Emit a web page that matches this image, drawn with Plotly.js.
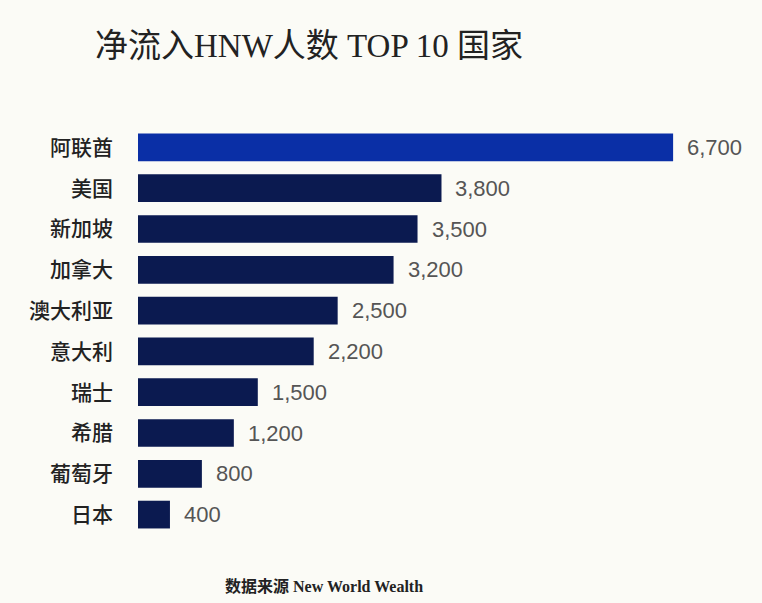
<!DOCTYPE html>
<html>
<head>
<meta charset="utf-8">
<script src="https://cdn.plot.ly/plotly-3.0.1.min.js"></script>
<style>html,body{margin:0;padding:0;background:#fbfbf6;}#chart{width:762px;height:603px;}</style>
</head>
<body>
<div id="chart"></div>
<script>
const countries = ["阿联酋", "美国", "新加坡", "加拿大", "澳大利亚", "意大利", "瑞士", "希腊", "葡萄牙", "日本"];
const netInflow = [6700, 3800, 3500, 3200, 2500, 2200, 1500, 1200, 800, 400];
const valueLabels = ["6,700", "3,800", "3,500", "3,200", "2,500", "2,200", "1,500", "1,200", "800", "400"];
const barColors = ["#0a2fa6", "#0b1a50", "#0b1a50", "#0b1a50", "#0b1a50", "#0b1a50", "#0b1a50", "#0b1a50", "#0b1a50", "#0b1a50"];

const trace = {
  type: "bar",
  orientation: "h",
  x: netInflow,
  y: countries,
  marker: {color: barColors},
  hoverinfo: "none"
};

const annotations = netInflow.map((v, i) => ({
  x: v, y: countries[i], xref: "x", yref: "y",
  text: valueLabels[i], showarrow: false,
  xanchor: "left", yanchor: "middle", xshift: 12,
  font: {family: "Liberation Sans, Arial, sans-serif", size: 22, color: "#555555"}
}));
annotations.push({
  xref: "paper", yref: "paper", x: 0.311, y: -0.127,
  xanchor: "center", yanchor: "middle", showarrow: false,
  text: "<b>数据来源 New World Wealth</b>",
  font: {family: "Liberation Serif, Noto Sans CJK SC, serif", size: 16, color: "#222222"}
});

const layout = {
  width: 762, height: 603,
  paper_bgcolor: "#fbfbf6", plot_bgcolor: "#fbfbf6",
  margin: {l: 138, r: 25, t: 127, b: 68},
  title: {
    text: "净流入HNW人数 TOP 10 国家",
    x: 95/762, xref: "container", xanchor: "left",
    y: 1 - 45/603, yref: "container", yanchor: "middle",
    font: {family: "Liberation Serif, Noto Sans CJK SC, serif", size: 33, color: "#222222"}
  },
  xaxis: {range: [0, 7500], visible: false, showgrid: false, zeroline: false},
  yaxis: {
    autorange: "reversed", showgrid: false, zeroline: false, showline: false,
    ticks: "", ticklabelstandoff: 24,
    tickfont: {family: "Noto Sans CJK SC, sans-serif", size: 21, weight: 500, color: "#222222"}
  },
  bargap: 0.32,
  showlegend: false,
  annotations: annotations
};

Plotly.newPlot("chart", [trace], layout, {displayModeBar: false, staticPlot: true});
</script>
</body>
</html>
